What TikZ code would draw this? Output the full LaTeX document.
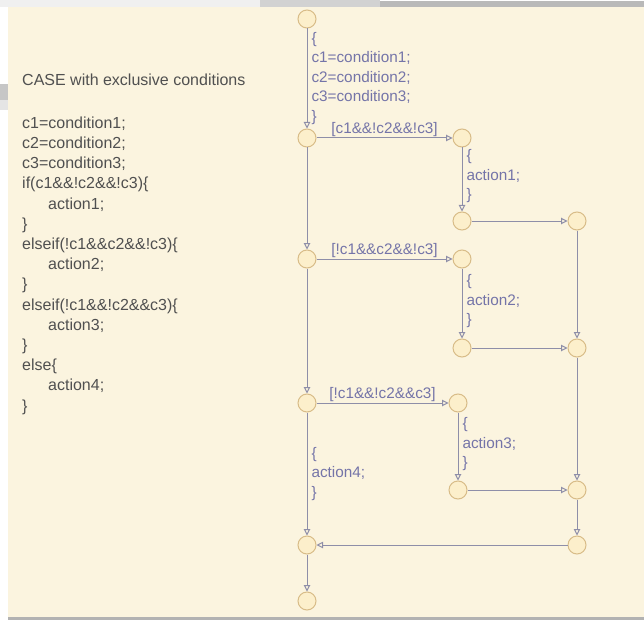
\documentclass[tikz,border=0pt]{standalone}
\usepackage{fontspec}
\setmainfont{Liberation Sans}
\usepackage{xcolor}
\definecolor{panel}{HTML}{FBF4DF}
\definecolor{jring}{HTML}{D8BC88}
\definecolor{jfill}{HTML}{FCEFCB}
\definecolor{trline}{HTML}{8E8EA8}
\definecolor{trtext}{HTML}{7474A8}
\definecolor{codegray}{HTML}{505050}
\usetikzlibrary{arrows.meta,positioning}

\begin{document}
\begin{tikzpicture}[x=1pt,y=-1pt,
  junc/.style={circle,draw=jring,fill=jfill,line width=1pt,minimum size=18pt,inner sep=0pt},
  tr/.style={-{Triangle[open,length=6.5pt,width=6.5pt]},draw=trline,line width=1pt},
  lab/.style={text=trtext,font=\fontsize{15.3}{19.5}\selectfont,inner sep=1pt,align=left},
  code/.style={text=codegray,font=\fontsize{16}{20.2}\selectfont,inner sep=0pt,align=left}
]
% page and panel
\fill[white] (0,0) rectangle (644,620);
\fill[gray!12] (0,0) rectangle (260,7);
\fill[gray!35] (260,0) rectangle (380,7);
\fill[gray!55] (380,1) rectangle (644,7);
\fill[gray!45] (0,84) rectangle (8,100);
\fill[gray!20] (0,100) rectangle (8,110);
\fill[panel] (8,7) rectangle (644,617);
\fill[gray!60] (8,617) rectangle (644,620);

% source code on the left
\node[code,anchor=base west] (title) at (22,86) {CASE with exclusive conditions};
\node[code,anchor=north west] (src) at (22,116.5) {c1=condition1;\\
c2=condition2;\\
c3=condition3;\\
if(c1\&\&!c2\&\&!c3)\{\\
\hspace*{26pt}action1;\\
\}\\
elseif(!c1\&\&c2\&\&!c3)\{\\
\hspace*{26pt}action2;\\
\}\\
elseif(!c1\&\&!c2\&\&c3)\{\\
\hspace*{26pt}action3;\\
\}\\
else\{\\
\hspace*{26pt}action4;\\
\}};

% junctions
\node[junc] (j0) at (307,19) {};
\node[junc] (j1) at (307,138) {};
\node[junc] (a1) at (462,138) {};
\node[junc] (b1) at (462,221) {};
\node[junc] (m1) at (577,221) {};
\node[junc] (j2) at (307,259) {};
\node[junc] (a2) at (462,259) {};
\node[junc] (b2) at (462,348) {};
\node[junc] (m2) at (577,348) {};
\node[junc] (j3) at (307,403) {};
\node[junc] (a3) at (458,403) {};
\node[junc] (b3) at (458,490) {};
\node[junc] (m3) at (577,490) {};
\node[junc] (m4) at (577,545) {};
\node[junc] (j4) at (307,545) {};
\node[junc] (j5) at (307,601) {};

% transitions
\draw[tr] (j0) -- node[lab,anchor=west,xshift=3pt] {\{\\c1=condition1;\\c2=condition2;\\c3=condition3;\\\}} (j1);
\draw[tr] (j1) -- node[lab,above] {[c1\&\&!c2\&\&!c3]} (a1);
\draw[tr] (a1) -- node[lab,anchor=west,xshift=3pt,yshift=3pt] {\{\\action1;\\\}} (b1);
\draw[tr] (b1) -- (m1);
\draw[tr] (j1) -- (j2);
\draw[tr] (j2) -- node[lab,above] {[!c1\&\&c2\&\&!c3]} (a2);
\draw[tr] (a2) -- node[lab,anchor=west,xshift=3pt,yshift=2pt] {\{\\action2;\\\}} (b2);
\draw[tr] (b2) -- (m2);
\draw[tr] (m1) -- (m2);
\draw[tr] (j2) -- (j3);
\draw[tr] (j3) -- node[lab,above] {[!c1\&\&!c2\&\&c3]} (a3);
\draw[tr] (a3) -- node[lab,anchor=west,xshift=3pt,yshift=2pt] {\{\\action3;\\\}} (b3);
\draw[tr] (b3) -- (m3);
\draw[tr] (m2) -- (m3);
\draw[tr] (m3) -- (m4);
\draw[tr] (j3) -- node[lab,anchor=west,xshift=3pt] {\{\\action4;\\\}} (j4);
\draw[tr] (m4) -- (j4);
\draw[tr] (j4) -- (j5);
\end{tikzpicture}
\end{document}
